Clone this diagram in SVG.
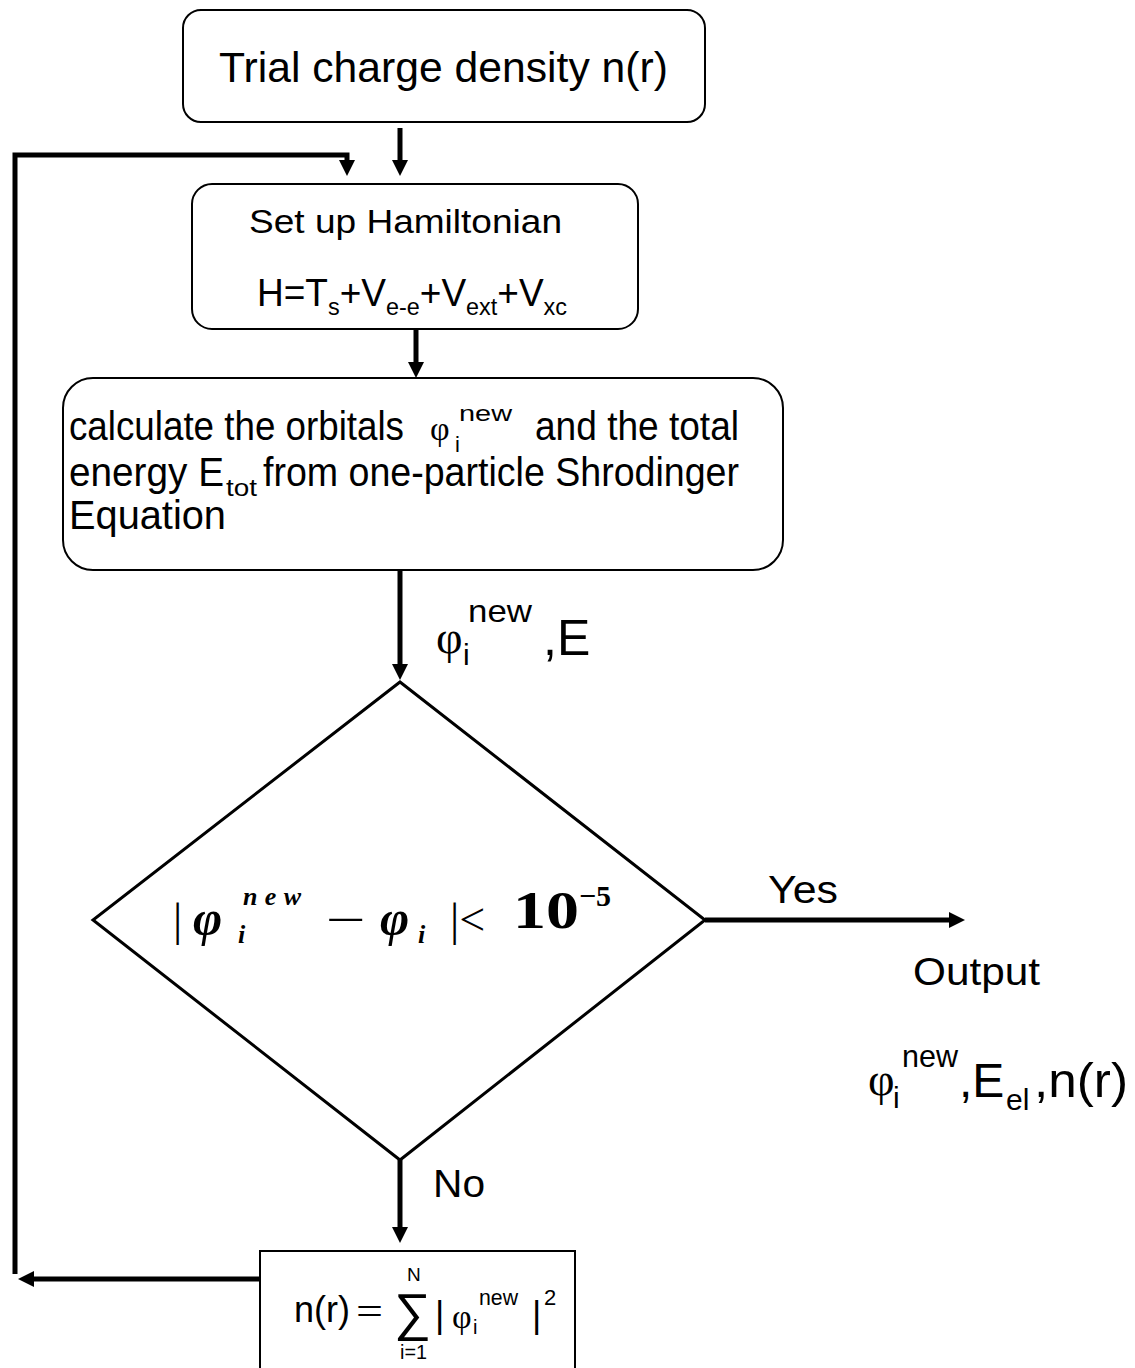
<svg xmlns="http://www.w3.org/2000/svg" width="1135" height="1368" viewBox="0 0 1135 1368">
<style>
.box{fill:#fff;stroke:#000;stroke-width:2}
.t{font-family:"Liberation Sans",Arial,sans-serif;fill:#000}
.s{font-family:"Liberation Serif","Times New Roman",serif;fill:#000}
.bi{font-family:"Liberation Serif","Times New Roman",serif;font-style:italic;font-weight:bold;fill:#000}
.con{fill:none;stroke:#000;stroke-width:5}
</style>
<defs>
<marker id="ah" markerUnits="userSpaceOnUse" markerWidth="18" markerHeight="18" refX="4" refY="8" orient="auto">
<path d="M0,0 L16,8 L0,16 z" fill="#000"/>
</marker>
</defs>
<rect width="1135" height="1368" fill="#fff"/>

<g id="connectors">
<line class="con" x1="400" y1="128" x2="400" y2="164" marker-end="url(#ah)"/>
<path class="con" d="M15,1274 V155 H347 V164" marker-end="url(#ah)"/>
<line class="con" x1="416" y1="330" x2="416" y2="366" marker-end="url(#ah)"/>
<line class="con" x1="400" y1="570" x2="400" y2="668" marker-end="url(#ah)"/>
<line class="con" x1="705" y1="920" x2="953" y2="920" marker-end="url(#ah)"/>
<line class="con" x1="400" y1="1160" x2="400" y2="1231" marker-end="url(#ah)"/>
<line class="con" x1="260" y1="1279" x2="30" y2="1279" marker-end="url(#ah)"/>
</g>

<g id="trial">
<rect class="box" x="183" y="10" width="522" height="112" rx="18"/>
<text class="t" x="219" y="82" font-size="42" textLength="449" lengthAdjust="spacingAndGlyphs">Trial charge density n(r)</text>
</g>

<g id="hamiltonian">
<rect class="box" x="192" y="184" width="446" height="145" rx="20"/>
<text class="t" x="249" y="233" font-size="34" textLength="313" lengthAdjust="spacingAndGlyphs">Set up Hamiltonian</text>
<text class="t" x="257" y="306" font-size="38" textLength="310" lengthAdjust="spacingAndGlyphs">H=T<tspan font-size="24" dy="9">s</tspan><tspan dy="-9">+V</tspan><tspan font-size="24" dy="9">e-e</tspan><tspan dy="-9">+V</tspan><tspan font-size="24" dy="9">ext</tspan><tspan dy="-9">+V</tspan><tspan font-size="24" dy="9">xc</tspan></text>
</g>

<g id="calculate">
<rect class="box" x="63" y="378" width="720" height="192" rx="30"/>
<text class="t" x="69" y="440" font-size="40" textLength="335" lengthAdjust="spacingAndGlyphs">calculate the orbitals</text>
<text class="s" x="430" y="440" font-size="34">φ</text>
<text class="t" x="455" y="452" font-size="22">i</text>
<text class="t" x="459" y="421" font-size="22" textLength="53" lengthAdjust="spacingAndGlyphs">new</text>
<text class="t" x="535" y="440" font-size="40" textLength="204" lengthAdjust="spacingAndGlyphs">and the total</text>
<text class="t" x="69" y="486" font-size="40" textLength="155" lengthAdjust="spacingAndGlyphs">energy E</text>
<text class="t" x="226" y="496" font-size="24" textLength="31" lengthAdjust="spacingAndGlyphs">tot</text>
<text class="t" x="263" y="486" font-size="40" textLength="476" lengthAdjust="spacingAndGlyphs">from one-particle Shrodinger</text>
<text class="t" x="69" y="529" font-size="40" textLength="157" lengthAdjust="spacingAndGlyphs">Equation</text>
</g>

<g id="label-phiE">
<text class="s" x="436" y="653" font-size="46">φ</text>
<text class="t" x="463" y="665" font-size="30">i</text>
<text class="t" x="468" y="622" font-size="32" textLength="64" lengthAdjust="spacingAndGlyphs">new</text>
<text class="t" x="543" y="655" font-size="50">,E</text>
</g>

<g id="decision">
<polygon points="400,682 705,920 400,1160 93,920" fill="#fff" stroke="#000" stroke-width="3"/>
<text class="s" x="173" y="935" font-size="46">|</text>
<text class="bi" x="193" y="935" font-size="50">φ</text>
<text class="bi" x="243" y="905" font-size="26" textLength="58" lengthAdjust="spacing">new</text>
<text class="bi" x="238" y="943" font-size="26">i</text>
<text class="s" x="326" y="935" font-size="46" textLength="40" lengthAdjust="spacingAndGlyphs">−</text>
<text class="bi" x="380" y="935" font-size="50">φ</text>
<text class="bi" x="418" y="943" font-size="26">i</text>
<text class="s" x="450" y="935" font-size="46">|&lt;</text>
<text class="s" x="513" y="928" font-size="52" font-weight="bold" textLength="66" lengthAdjust="spacingAndGlyphs">10</text>
<text class="s" x="579" y="906" font-size="30" font-weight="bold">−5</text>
</g>

<g id="yes-label">
<text class="t" x="768" y="903" font-size="38" textLength="70" lengthAdjust="spacingAndGlyphs">Yes</text>
</g>

<g id="output">
<text class="t" x="913" y="985" font-size="38" textLength="127" lengthAdjust="spacingAndGlyphs">Output</text>
<text class="s" x="868" y="1095" font-size="46">φ</text>
<text class="t" x="893" y="1108" font-size="30">i</text>
<text class="t" x="902" y="1067" font-size="32" textLength="56" lengthAdjust="spacingAndGlyphs">new</text>
<text class="t" x="959" y="1097" font-size="48">,E</text>
<text class="t" x="1006" y="1110" font-size="30">el</text>
<text class="t" x="1034" y="1097" font-size="48" textLength="94" lengthAdjust="spacingAndGlyphs">,n(r)</text>
</g>

<g id="no-label">
<text class="t" x="433" y="1197" font-size="38" textLength="52" lengthAdjust="spacingAndGlyphs">No</text>
</g>

<g id="density">
<rect class="box" x="260" y="1251" width="315" height="140"/>
<text class="t" x="294" y="1322" font-size="36">n(r)</text>
<text class="s" x="356" y="1325" font-size="40" textLength="27" lengthAdjust="spacingAndGlyphs">=</text>
<text class="t" x="394" y="1330" font-size="52" textLength="37" lengthAdjust="spacingAndGlyphs">∑</text>
<text class="t" x="407" y="1281" font-size="19">N</text>
<text class="t" x="400" y="1359" font-size="20" textLength="27" lengthAdjust="spacingAndGlyphs">i=1</text>
<text class="t" x="435" y="1327" font-size="36">|</text>
<text class="s" x="452" y="1328" font-size="34">φ</text>
<text class="t" x="473" y="1334" font-size="20">i</text>
<text class="t" x="479" y="1305" font-size="22" textLength="39" lengthAdjust="spacingAndGlyphs">new</text>
<text class="t" x="532" y="1327" font-size="36">|</text>
<text class="t" x="544" y="1305" font-size="22">2</text>
</g>
</svg>
